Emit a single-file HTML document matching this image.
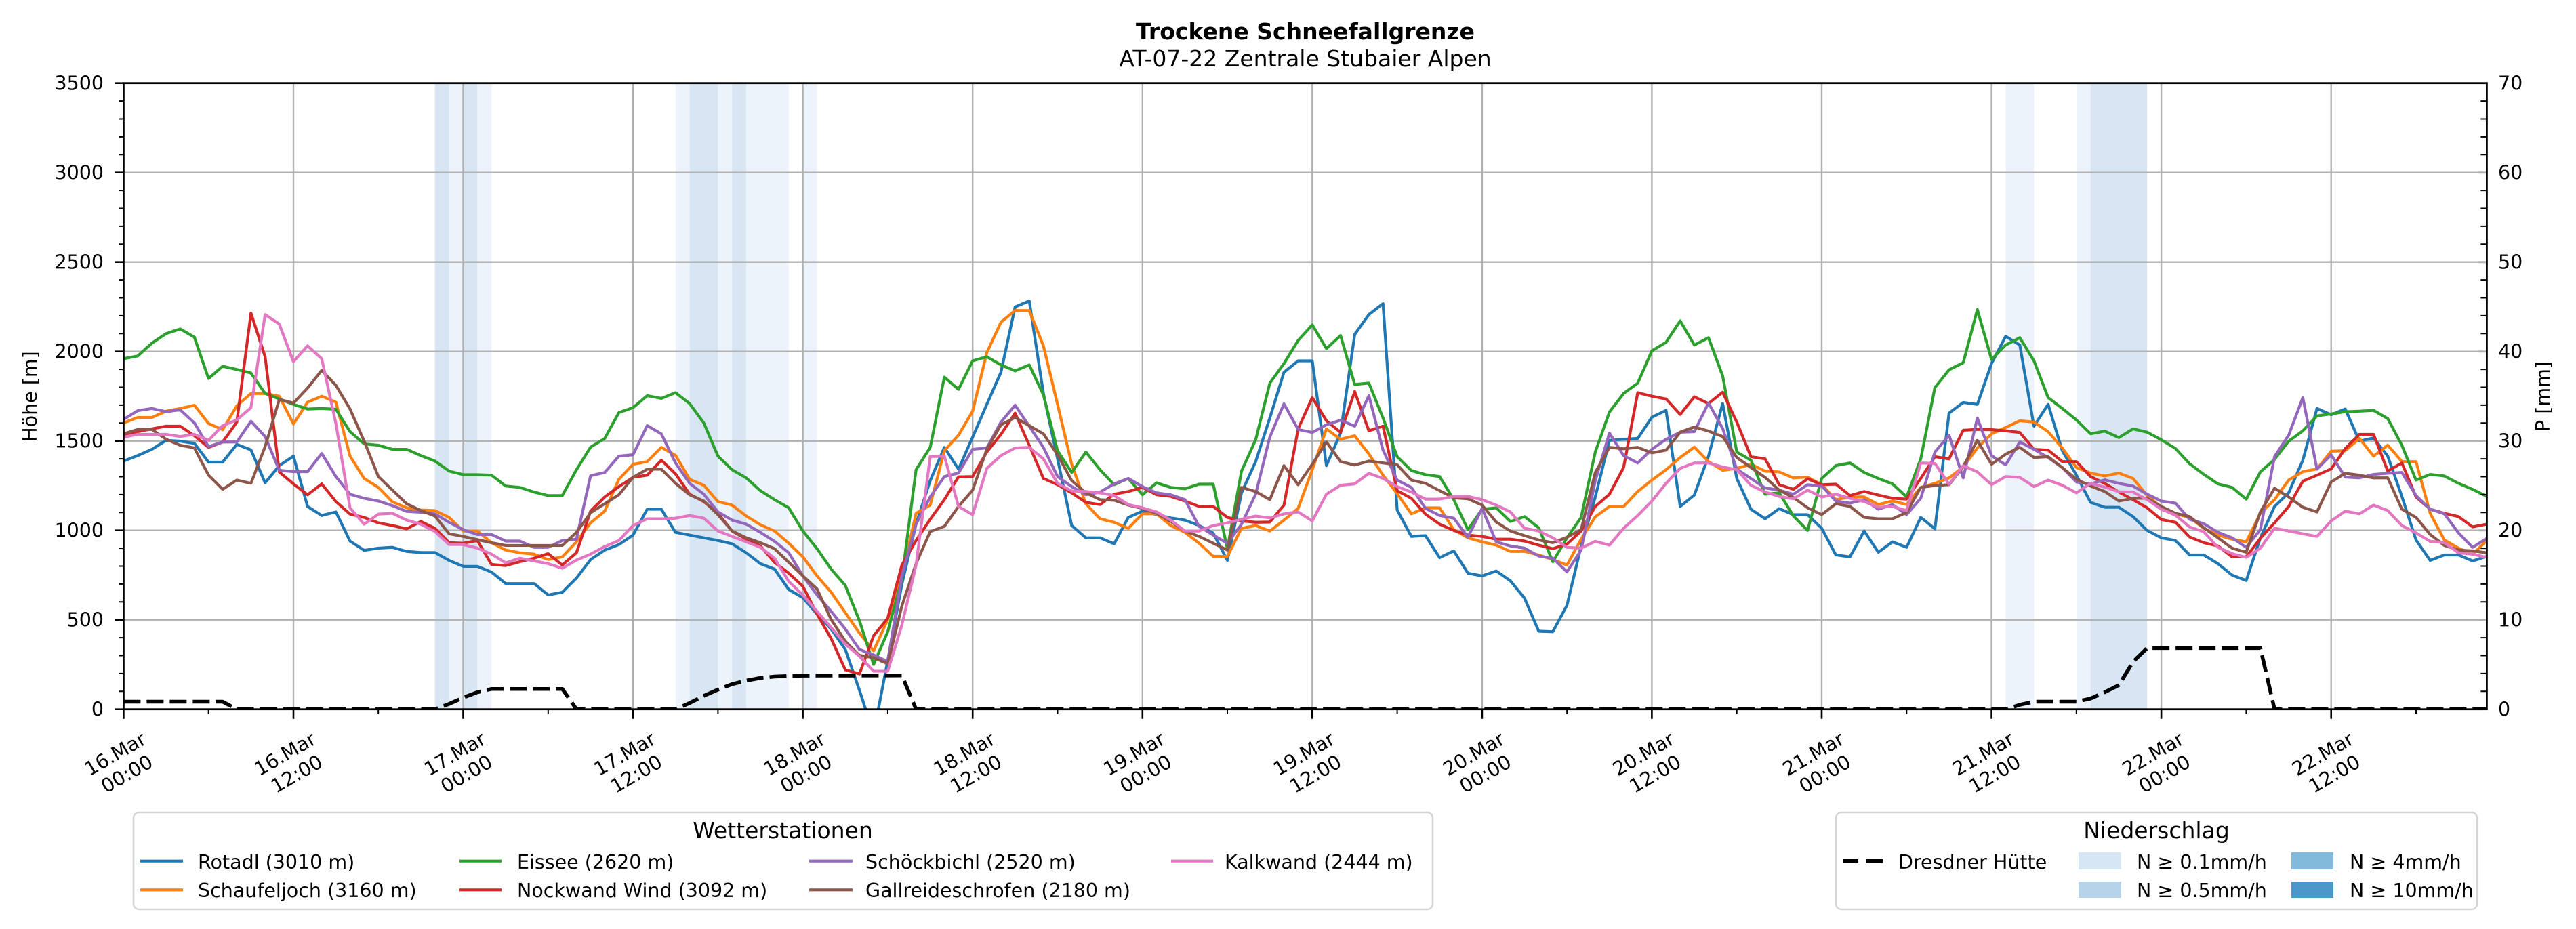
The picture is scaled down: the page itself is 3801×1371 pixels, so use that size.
<!DOCTYPE html>
<html>
<head>
<meta charset="utf-8">
<style>
html,body{margin:0;padding:0;background:#fff;}
svg{display:block;}
text{font-family:"DejaVu Sans","Liberation Sans",sans-serif;fill:#000;}
</style>
</head>
<body>
<svg xmlns="http://www.w3.org/2000/svg" width="3801" height="1371" viewBox="0 0 3801 1371">
<defs>
<clipPath id="plot"><rect x="182.4" y="122.7" width="3487" height="924"/></clipPath>
</defs>
<rect x="0" y="0" width="3801" height="1371" fill="#ffffff"/>

<!-- precipitation bands -->
<g fill="#edf3fa">
<rect x="662.64" y="122.7" width="20.88" height="924"/>
<rect x="704.4" y="122.7" width="20.88" height="924"/>
<rect x="996.72" y="122.7" width="20.88" height="924"/>
<rect x="1059.36" y="122.7" width="20.88" height="924"/>
<rect x="1101.12" y="122.7" width="62.64" height="924"/>
<rect x="1184.64" y="122.7" width="20.88" height="924"/>
<rect x="2959.44" y="122.7" width="41.76" height="924"/>
<rect x="3063.84" y="122.7" width="20.88" height="924"/>
</g>
<g fill="#d8e6f3">
<rect x="641.76" y="122.7" width="20.88" height="924"/>
<rect x="683.52" y="122.7" width="20.88" height="924"/>
<rect x="1017.6" y="122.7" width="41.76" height="924"/>
<rect x="1080.24" y="122.7" width="20.88" height="924"/>
<rect x="3084.72" y="122.7" width="83.52" height="924"/>
</g>

<!-- grid -->
<g stroke="#b0b0b0" stroke-width="2.4" fill="none">
<path d="M433.0 122.7V1046.7M683.5 122.7V1046.7M934.1 122.7V1046.7M1184.6 122.7V1046.7M1435.2 122.7V1046.7M1685.8 122.7V1046.7M1936.3 122.7V1046.7M2186.9 122.7V1046.7M2437.4 122.7V1046.7M2688.0 122.7V1046.7M2938.6 122.7V1046.7M3189.1 122.7V1046.7M3439.7 122.7V1046.7"/>
<path d="M182.4 914.7H3669.4M182.4 782.7H3669.4M182.4 650.7H3669.4M182.4 518.7H3669.4M182.4 386.7H3669.4M182.4 254.7H3669.4"/>
</g>

<!-- series -->
<g clip-path="url(#plot)">
<g transform="matrix(20.88 0 0 0.40179 182.4 420)" fill="none" stroke-width="4.2" stroke-linejoin="round" stroke-linecap="butt">
<polyline vector-effect="non-scaling-stroke" stroke="#1f77b4" points="0,648 1,628 2,605 3,572 4,575 5,583 6,652 7,652 8,587 9,607 10,728 11,665 12,630 13,815 14,848 15,835 16,942 17,976 18,968 19,965 20,980 21,984 22,984 23,1013 24,1035 25,1035 26,1056 27,1098 28,1098 29,1098 30,1140 31,1130 32,1078 33,1010 34,975 35,955 36,920 37,825 38,825 39,910 40,920 41,930 42,940 43,952 44,985 45,1025 46,1045 47,1120 48,1150 49,1210 50,1265 51,1340 52,1490 53,1650 54,1380 55,1100 56,880 57,720 58,598 59,678 60,560 61,440 62,322 63,82 64,60 65,400 66,640 67,885 68,930 69,930 70,952 71,855 72,832 73,845 74,857 75,865 76,885 77,913 78,1013 79,765 80,650 81,490 82,322 83,280 84,280 85,665 86,545 87,183 88,110 89,70 90,828 91,925 92,922 93,1003 94,978 95,1060 96,1070 97,1052 98,1088 99,1152 100,1273 101,1275 102,1178 103,960 104,780 105,572 106,568 107,565 108,487 109,462 110,815 111,773 112,630 113,437 114,712 115,825 116,860 117,823 118,845 119,845 120,895 121,993 122,1000 123,905 124,983 125,945 126,965 127,855 128,897 129,472 130,433 131,440 132,290 133,190 134,222 135,520 136,440 137,610 138,700 139,800 140,818 141,818 142,852 143,903 144,930 145,940 146,993 147,993 148,1025 149,1067 150,1087 151,930 152,815 153,765 154,645 155,455 156,478 157,457 158,575 159,563 160,630 161,778 162,938 163,1013 164,993 165,993 166,1015 167,998"/>
<polyline vector-effect="non-scaling-stroke" stroke="#ff7f0e" points="0,508 1,488 2,488 3,465 4,455 5,443 6,510 7,533 8,445 9,400 10,400 11,410 12,512 13,432 14,410 15,432 16,630 17,712 18,745 19,798 20,820 21,828 22,830 23,855 24,905 25,905 26,948 27,975 28,985 29,990 30,1010 31,1000 32,945 33,875 34,832 35,715 36,660 37,650 38,598 39,627 40,715 41,737 42,797 43,810 44,850 45,882 46,905 47,950 48,1000 49,1070 50,1130 51,1205 52,1280 53,1345 54,1230 55,1070 56,840 57,810 58,610 59,553 60,465 61,250 62,138 63,95 64,95 65,225 66,440 67,660 68,805 69,860 70,873 71,895 72,842 73,842 74,885 75,910 76,950 77,998 78,998 79,895 80,885 81,905 82,865 83,822 84,680 85,530 86,568 87,555 88,622 89,700 90,768 91,842 92,820 93,820 94,900 95,930 96,945 97,957 98,980 99,980 100,993 101,1010 102,1030 103,935 104,853 105,815 106,815 107,760 108,718 109,680 110,635 111,597 112,650 113,682 114,675 115,660 116,685 117,688 118,710 119,707 120,735 121,790 122,780 123,780 124,808 125,795 126,808 127,745 128,730 129,710 130,670 131,600 132,548 133,525 134,500 135,505 136,540 137,600 138,672 139,692 140,703 141,692 142,712 143,775 144,818 145,842 146,855 147,895 148,920 149,935 150,945 151,840 152,790 153,718 154,687 155,677 156,612 157,610 158,565 159,630 160,590 161,650 162,650 163,840 164,938 165,968 166,990 167,940"/>
<polyline vector-effect="non-scaling-stroke" stroke="#2ca02c" points="0,272 1,262 2,215 3,180 4,163 5,193 6,345 7,300 8,312 9,325 10,400 11,420 12,440 13,457 14,455 15,458 16,540 17,585 18,590 19,605 20,605 21,628 22,648 23,685 24,698 25,698 26,700 27,740 28,745 29,762 30,775 31,775 32,680 33,597 34,565 35,470 36,452 37,408 38,418 39,397 40,437 41,508 42,630 43,680 44,710 45,757 46,790 47,820 48,905 49,970 50,1045 51,1105 52,1235 53,1395 54,1275 55,1080 56,680 57,598 58,340 59,385 60,280 61,265 62,295 63,317 64,295 65,405 66,610 67,690 68,615 69,680 70,735 71,712 72,772 73,728 74,745 75,750 76,733 77,733 78,970 79,685 80,570 81,362 82,290 83,205 84,148 85,235 86,187 87,367 88,362 89,490 90,632 91,683 92,698 93,705 94,790 95,900 96,825 97,820 98,870 99,852 100,893 101,1018 102,930 103,855 104,615 105,468 106,400 107,362 108,243 109,212 110,133 111,222 112,195 113,335 114,615 115,645 116,770 117,765 118,850 119,903 120,712 121,665 122,655 123,690 124,712 125,732 126,780 127,640 128,378 129,313 130,287 131,92 132,275 133,222 134,195 135,280 136,415 137,455 138,497 139,548 140,538 141,562 142,530 143,542 144,570 145,602 146,658 147,697 148,732 149,745 150,788 151,688 152,642 153,575 154,537 155,482 156,475 157,467 158,465 159,462 160,492 161,590 162,718 163,697 164,703 165,730 166,752 167,778"/>
<polyline vector-effect="non-scaling-stroke" stroke="#d62728" points="0,550 1,540 2,530 3,520 4,520 5,555 6,598 7,578 8,505 9,105 10,265 11,688 12,732 13,772 14,732 15,797 16,843 17,855 18,875 19,885 20,897 21,870 22,895 23,948 24,950 25,940 26,1028 27,1032 28,1018 29,1005 30,988 31,1030 32,985 33,832 34,780 35,742 36,708 37,700 38,645 39,695 40,770 41,797 42,840 43,905 44,935 45,960 46,1020 47,1060 48,1108 49,1210 50,1300 51,1415 52,1430 53,1290 54,1225 55,1030 56,940 57,862 58,790 59,706 60,705 61,615 62,550 63,472 64,590 65,712 66,735 67,765 68,800 69,808 70,770 71,760 72,745 73,772 74,778 75,795 76,815 77,815 78,855 79,868 80,873 81,872 82,810 83,530 84,415 85,500 86,543 87,393 88,537 89,520 90,757 91,785 92,843 93,880 94,903 95,920 96,925 97,935 98,935 99,942 100,957 101,970 102,953 103,905 104,815 105,770 106,672 107,397 108,410 109,420 110,477 111,412 112,437 113,395 114,505 115,632 116,640 117,735 118,752 119,713 120,735 121,733 122,775 123,760 124,773 125,785 126,788 127,712 128,632 129,640 130,535 131,532 132,533 133,537 134,543 135,605 136,608 137,650 138,650 139,705 140,730 141,762 142,790 143,820 144,863 145,873 146,927 147,948 148,960 149,1000 150,1000 151,932 152,875 153,815 154,722 155,700 156,677 157,602 158,550 159,550 160,685 161,655 162,780 163,825 164,840 165,852 166,890 167,880"/>
<polyline vector-effect="non-scaling-stroke" stroke="#9467bd" points="0,495 1,463 2,455 3,467 4,460 5,508 6,595 7,578 8,578 9,502 10,558 11,682 12,687 13,687 14,620 15,705 16,770 17,785 18,795 19,812 20,833 21,836 22,842 23,873 24,900 25,918 26,918 27,942 28,942 29,965 30,965 31,940 32,935 33,702 34,690 35,630 36,625 37,518 38,548 39,655 40,730 41,770 42,835 43,865 44,880 45,910 46,943 47,985 48,1070 49,1140 50,1200 51,1265 52,1340 53,1360 54,1385 55,1070 56,880 57,780 58,705 59,692 60,605 61,600 62,505 63,443 64,520 65,598 66,705 67,742 68,772 69,762 70,732 71,712 72,742 73,765 74,772 75,790 76,888 77,920 78,950 79,880 80,770 81,560 82,438 83,532 84,543 85,515 86,498 87,520 88,408 89,608 90,718 91,745 92,822 93,848 94,858 95,928 96,822 97,945 98,960 99,968 100,997 101,1005 102,1055 103,975 104,720 105,545 106,628 107,655 108,605 109,568 110,542 111,540 112,435 113,528 114,678 115,712 116,747 117,755 118,770 119,735 120,740 121,795 122,803 123,790 124,825 125,808 126,845 127,785 128,615 129,553 130,710 131,490 132,628 133,662 134,578 135,605 136,635 137,672 138,725 139,732 140,717 141,730 142,740 143,770 144,795 145,803 146,862 147,878 148,910 149,930 150,965 151,900 152,632 153,553 154,415 155,678 156,625 157,707 158,710 159,697 160,693 161,690 162,775 163,825 164,842 165,912 166,965 167,932"/>
<polyline vector-effect="non-scaling-stroke" stroke="#8c564b" points="0,548 1,532 2,532 3,568 4,590 5,600 6,700 7,752 8,718 9,730 10,595 11,422 12,435 13,380 14,315 15,370 16,457 17,575 18,705 19,755 20,805 21,830 22,850 23,915 24,925 25,937 26,948 27,958 28,958 29,958 30,958 31,958 32,910 33,838 34,805 35,772 36,708 37,678 38,678 39,730 40,772 41,795 42,845 43,905 44,930 45,948 46,970 47,1020 48,1070 49,1118 50,1230 51,1310 52,1362 53,1370 54,1393 55,1180 56,1025 57,907 58,888 59,815 60,755 61,605 62,515 63,488 64,518 65,548 66,625 67,720 68,765 69,790 70,792 71,810 72,822 73,840 74,870 75,905 76,925 77,950 78,975 79,745 80,760 81,790 82,665 83,735 84,660 85,578 86,650 87,663 88,648 89,655 90,662 91,718 92,730 93,757 94,783 95,787 96,810 97,872 98,905 99,922 100,938 101,948 102,928 103,900 104,690 105,598 106,603 107,598 108,618 109,608 110,542 111,523 112,538 113,558 114,635 115,672 116,708 117,755 118,782 119,820 120,845 121,805 122,815 123,855 124,860 125,860 126,837 127,745 128,738 129,735 130,668 131,572 132,660 133,623 134,598 135,635 136,632 137,672 138,715 139,740 140,760 141,795 142,785 143,785 144,815 145,840 146,852 147,893 148,930 149,968 150,983 151,835 152,748 153,780 154,818 155,835 156,725 157,693 158,700 159,710 160,710 161,825 162,855 163,918 164,958 165,975 166,978 167,985"/>
<polyline vector-effect="non-scaling-stroke" stroke="#e377c2" points="0,560 1,550 2,550 3,550 4,558 5,550 6,572 7,518 8,497 9,452 10,110 11,145 12,283 13,225 14,272 15,510 16,820 17,880 18,843 19,840 20,865 21,880 22,907 23,955 24,955 25,968 26,990 27,1022 28,1005 29,1015 30,1025 31,1042 32,1012 33,990 34,962 35,940 36,885 37,860 38,860 39,858 40,848 41,858 42,905 43,925 44,945 45,965 46,1005 47,1090 48,1140 49,1200 50,1260 51,1320 52,1365 53,1420 54,1420 55,1250 56,1030 57,632 58,630 59,815 60,845 61,675 62,628 63,600 64,598 65,640 66,730 67,758 68,760 69,765 70,775 71,808 72,820 73,835 74,865 75,905 76,905 77,885 78,875 79,862 80,850 81,857 82,842 83,835 84,868 85,770 86,737 87,732 88,693 89,712 90,742 91,762 92,788 93,788 94,778 95,778 96,790 97,810 98,835 99,895 100,905 101,930 102,965 103,968 104,943 105,957 106,895 107,848 108,795 109,730 110,675 111,655 112,655 113,670 114,680 115,737 116,762 117,778 118,787 119,755 120,780 121,770 122,785 123,797 124,818 125,815 126,830 127,655 128,657 129,733 130,665 131,688 132,735 133,705 134,708 135,742 136,718 137,737 138,765 139,730 140,744 141,761 142,762 143,790 144,825 145,847 146,890 147,908 148,965 149,988 150,1002 151,968 152,895 153,905 154,915 155,925 156,868 157,832 158,842 159,810 160,830 161,885 162,912 163,943 164,948 165,985 166,990 167,1002"/>
</g>
<!-- Dresdner Huette precipitation (dashed) -->
<polyline fill="none" stroke="#000" stroke-width="5.5" stroke-dasharray="25 9" stroke-linejoin="round" points="182.4,1035.5 328.6,1035.5 349.4,1046.7 641.8,1046.7 662.6,1038.8 683.5,1029.5 704.4,1021.6 725.3,1016.7 829.7,1016.7 850.6,1046.7 996.7,1046.7 1017.6,1037.5 1038.5,1026.9 1059.4,1017.7 1080.2,1009.7 1101.1,1004.5 1122.0,1000.5 1142.9,998.5 1163.8,997.6 1184.6,997.1 1330.8,996.8 1351.7,1046.7 2959.4,1046.7 2980.3,1040.1 3001.2,1035.5 3063.8,1035.5 3084.7,1030.9 3105.6,1021.6 3126.5,1011.1 3147.4,976.7 3168.2,956.4 3335.3,956.4 3356.2,1046.7 3669.4,1046.7"/>
</g>

<!-- spines -->
<rect x="182.4" y="122.7" width="3487" height="924" fill="none" stroke="#000" stroke-width="2.8"/>

<!-- ticks -->
<g stroke="#000" fill="none">
<path stroke-width="2.6" d="M169.4 1046.7H182.4M169.4 914.7H182.4M169.4 782.7H182.4M169.4 650.7H182.4M169.4 518.7H182.4M169.4 386.7H182.4M169.4 254.7H182.4M169.4 122.7H182.4"/>
<path stroke-width="2" d="M176 1020.3H182.4M176 993.9H182.4M176 967.5H182.4M176 941.1H182.4M176 888.3H182.4M176 861.9H182.4M176 835.5H182.4M176 809.1H182.4M176 756.3H182.4M176 729.9H182.4M176 703.5H182.4M176 677.1H182.4M176 624.3H182.4M176 597.9H182.4M176 571.5H182.4M176 545.1H182.4M176 492.3H182.4M176 465.9H182.4M176 439.5H182.4M176 413.1H182.4M176 360.3H182.4M176 333.9H182.4M176 307.5H182.4M176 281.1H182.4M176 228.3H182.4M176 201.9H182.4M176 175.5H182.4M176 149.1H182.4"/>
<path stroke-width="2" d="M3660.4 1020.3H3669.4M3660.4 993.9H3669.4M3660.4 967.5H3669.4M3660.4 941.1H3669.4M3660.4 888.3H3669.4M3660.4 861.9H3669.4M3660.4 835.5H3669.4M3660.4 809.1H3669.4M3660.4 756.3H3669.4M3660.4 729.9H3669.4M3660.4 703.5H3669.4M3660.4 677.1H3669.4M3660.4 624.3H3669.4M3660.4 597.9H3669.4M3660.4 571.5H3669.4M3660.4 545.1H3669.4M3660.4 492.3H3669.4M3660.4 465.9H3669.4M3660.4 439.5H3669.4M3660.4 413.1H3669.4M3660.4 360.3H3669.4M3660.4 333.9H3669.4M3660.4 307.5H3669.4M3660.4 281.1H3669.4M3660.4 228.3H3669.4M3660.4 201.9H3669.4M3660.4 175.5H3669.4M3660.4 149.1H3669.4"/>
<path stroke-width="2.6" d="M182.4 1046.7V1060.7M433.0 1046.7V1060.7M683.5 1046.7V1060.7M934.1 1046.7V1060.7M1184.6 1046.7V1060.7M1435.2 1046.7V1060.7M1685.8 1046.7V1060.7M1936.3 1046.7V1060.7M2186.9 1046.7V1060.7M2437.4 1046.7V1060.7M2688.0 1046.7V1060.7M2938.6 1046.7V1060.7M3189.1 1046.7V1060.7M3439.7 1046.7V1060.7"/>
<path stroke-width="2" d="M307.7 1046.7V1054M558.2 1046.7V1054M808.8 1046.7V1054M1059.4 1046.7V1054M1309.9 1046.7V1054M1560.5 1046.7V1054M1811.0 1046.7V1054M2061.6 1046.7V1054M2312.2 1046.7V1054M2562.7 1046.7V1054M2813.3 1046.7V1054M3063.8 1046.7V1054M3314.4 1046.7V1054M3565.0 1046.7V1054"/>
</g>
<path stroke="#b0b0b0" stroke-width="3" d="M3657 914.7H3668M3657 782.7H3668M3657 650.7H3668M3657 518.7H3668M3657 386.7H3668M3657 254.7H3668"/>

<!-- left tick labels -->
<g font-size="28.5" text-anchor="end">
<text x="153" y="1056.7">0</text>
<text x="153" y="924.7">500</text>
<text x="153" y="792.7">1000</text>
<text x="153" y="660.7">1500</text>
<text x="153" y="528.7">2000</text>
<text x="153" y="396.7">2500</text>
<text x="153" y="264.7">3000</text>
<text x="153" y="132.7">3500</text>
</g>
<!-- right tick labels -->
<g font-size="28.5" text-anchor="start">
<text x="3686" y="1056.7">0</text>
<text x="3686" y="924.7">10</text>
<text x="3686" y="792.7">20</text>
<text x="3686" y="660.7">30</text>
<text x="3686" y="528.7">40</text>
<text x="3686" y="396.7">50</text>
<text x="3686" y="264.7">60</text>
<text x="3686" y="132.7">70</text>
</g>

<!-- axis labels -->
<text font-size="28.5" text-anchor="middle" transform="translate(54,585) rotate(-90)">Höhe [m]</text>
<text font-size="28.5" text-anchor="middle" transform="translate(3762,585) rotate(-90)">P [mm]</text>

<!-- x tick labels -->
<g font-size="28.5" text-anchor="middle">
<text transform="translate(178.4,1127) rotate(-30)"><tspan x="0" y="-6.8">16.Mar</tspan><tspan x="0" y="27.4">00:00</tspan></text>
<text transform="translate(429.0,1127) rotate(-30)"><tspan x="0" y="-6.8">16.Mar</tspan><tspan x="0" y="27.4">12:00</tspan></text>
<text transform="translate(679.5,1127) rotate(-30)"><tspan x="0" y="-6.8">17.Mar</tspan><tspan x="0" y="27.4">00:00</tspan></text>
<text transform="translate(930.1,1127) rotate(-30)"><tspan x="0" y="-6.8">17.Mar</tspan><tspan x="0" y="27.4">12:00</tspan></text>
<text transform="translate(1180.6,1127) rotate(-30)"><tspan x="0" y="-6.8">18.Mar</tspan><tspan x="0" y="27.4">00:00</tspan></text>
<text transform="translate(1431.2,1127) rotate(-30)"><tspan x="0" y="-6.8">18.Mar</tspan><tspan x="0" y="27.4">12:00</tspan></text>
<text transform="translate(1681.8,1127) rotate(-30)"><tspan x="0" y="-6.8">19.Mar</tspan><tspan x="0" y="27.4">00:00</tspan></text>
<text transform="translate(1932.3,1127) rotate(-30)"><tspan x="0" y="-6.8">19.Mar</tspan><tspan x="0" y="27.4">12:00</tspan></text>
<text transform="translate(2182.9,1127) rotate(-30)"><tspan x="0" y="-6.8">20.Mar</tspan><tspan x="0" y="27.4">00:00</tspan></text>
<text transform="translate(2433.4,1127) rotate(-30)"><tspan x="0" y="-6.8">20.Mar</tspan><tspan x="0" y="27.4">12:00</tspan></text>
<text transform="translate(2684.0,1127) rotate(-30)"><tspan x="0" y="-6.8">21.Mar</tspan><tspan x="0" y="27.4">00:00</tspan></text>
<text transform="translate(2934.6,1127) rotate(-30)"><tspan x="0" y="-6.8">21.Mar</tspan><tspan x="0" y="27.4">12:00</tspan></text>
<text transform="translate(3185.1,1127) rotate(-30)"><tspan x="0" y="-6.8">22.Mar</tspan><tspan x="0" y="27.4">00:00</tspan></text>
<text transform="translate(3435.7,1127) rotate(-30)"><tspan x="0" y="-6.8">22.Mar</tspan><tspan x="0" y="27.4">12:00</tspan></text>
</g>

<!-- title -->
<text x="1926" y="58" font-size="33" font-weight="bold" text-anchor="middle">Trockene Schneefallgrenze</text>
<text x="1926" y="98" font-size="33" text-anchor="middle">AT-07-22 Zentrale Stubaier Alpen</text>

<!-- legend: Wetterstationen -->
<rect x="197" y="1199" width="1917" height="143" rx="8" ry="8" fill="#fff" stroke="#d5d5d5" stroke-width="2.5"/>
<text x="1155" y="1237" font-size="33" text-anchor="middle">Wetterstationen</text>
<g stroke-width="4.2" fill="none">
<path stroke="#1f77b4" d="M207 1270.7H270"/>
<path stroke="#ff7f0e" d="M207 1313.3H270"/>
<path stroke="#2ca02c" d="M678 1270.7H740"/>
<path stroke="#d62728" d="M678 1313.3H740"/>
<path stroke="#9467bd" d="M1194 1270.7H1258"/>
<path stroke="#8c564b" d="M1194 1313.3H1258"/>
<path stroke="#e377c2" d="M1728 1270.7H1790"/>
</g>
<g font-size="28.5">
<text x="292" y="1282">Rotadl (3010 m)</text>
<text x="292" y="1324">Schaufeljoch (3160 m)</text>
<text x="763" y="1282">Eissee (2620 m)</text>
<text x="763" y="1324">Nockwand Wind (3092 m)</text>
<text x="1277" y="1282">Schöckbichl (2520 m)</text>
<text x="1277" y="1324">Gallreideschrofen (2180 m)</text>
<text x="1807" y="1282">Kalkwand (2444 m)</text>
</g>

<!-- legend: Niederschlag -->
<rect x="2709" y="1199" width="946" height="143" rx="8" ry="8" fill="#fff" stroke="#d5d5d5" stroke-width="2.5"/>
<text x="3182" y="1237" font-size="33" text-anchor="middle">Niederschlag</text>
<path d="M2720 1270.7H2742M2753 1270.7H2778" stroke="#000" stroke-width="5.5"/>
<rect x="3067" y="1258" width="63" height="25" fill="#d6e6f4"/>
<rect x="3067" y="1301" width="63" height="24" fill="#b6d3e9"/>
<rect x="3381" y="1258" width="62" height="25" fill="#82badb"/>
<rect x="3381" y="1301" width="62" height="24" fill="#4a98c9"/>
<g font-size="28.5">
<text x="2801" y="1282">Dresdner Hütte</text>
<text x="3153" y="1282">N ≥ 0.1mm/h</text>
<text x="3153" y="1324">N ≥ 0.5mm/h</text>
<text x="3467" y="1282">N ≥ 4mm/h</text>
<text x="3467" y="1324">N ≥ 10mm/h</text>
</g>
</svg>
</body>
</html>
